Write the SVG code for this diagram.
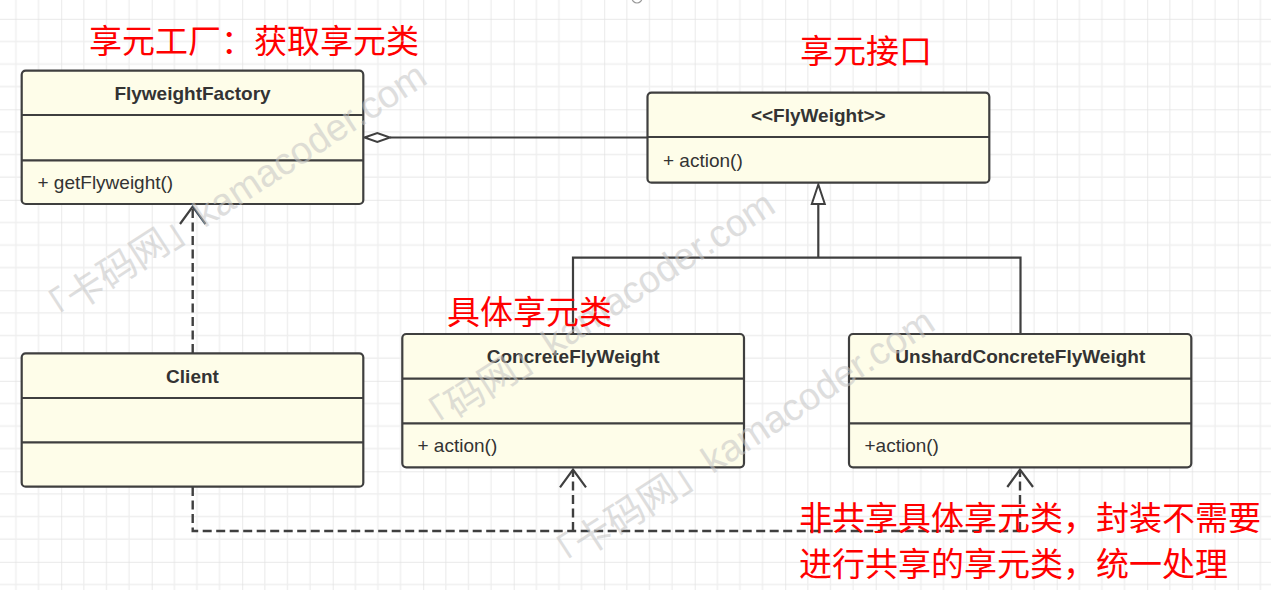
<svg xmlns="http://www.w3.org/2000/svg" width="1271" height="590" viewBox="0 0 1271 590">
<defs>
<pattern id="grid" patternUnits="userSpaceOnUse" x="61.2" y="18.8" width="90.5" height="90.5">
<rect width="90.5" height="90.5" fill="#ffffff"/>
<g stroke="#efefef" stroke-width="1.3">
<line x1="22.625" y1="0" x2="22.625" y2="90.5"/>
<line x1="45.25" y1="0" x2="45.25" y2="90.5"/>
<line x1="67.875" y1="0" x2="67.875" y2="90.5"/>
<line x1="0" y1="22.625" x2="90.5" y2="22.625"/>
<line x1="0" y1="45.25" x2="90.5" y2="45.25"/>
<line x1="0" y1="67.875" x2="90.5" y2="67.875"/>
</g>
<g stroke="#e2e2e2" stroke-width="1.4">
<line x1="0" y1="0" x2="0" y2="90.5"/>
<line x1="0" y1="0" x2="90.5" y2="0"/>
</g>
</pattern>
<style>
.box{fill:#fefde9;stroke:#3f3f3f;stroke-width:2.2}
.div{stroke:#3f3f3f;stroke-width:2.2}
.title{font-family:"Liberation Sans",Arial,sans-serif;font-size:19px;font-weight:bold;fill:#333333;text-anchor:middle}
.member{font-family:"Liberation Sans",Arial,sans-serif;font-size:19px;fill:#333333}
.solid{fill:none;stroke:#3f3f3f;stroke-width:2.2}
.dash{fill:none;stroke:#3f3f3f;stroke-width:2.4;stroke-dasharray:9 4.5}
.open{fill:none;stroke:#3f3f3f;stroke-width:2.2}
.note{font-family:"Noto Sans CJK SC","Noto Sans CJK JP",sans-serif;font-size:33px;fill:#ff0000}
.wm{font-family:"Liberation Sans","Noto Sans CJK SC",sans-serif;font-size:38px;fill:#c4c4c4;opacity:0.55}
</style>
</defs>
<rect width="1271" height="590" fill="url(#grid)"/>
<circle cx="637" cy="-2" r="5" fill="none" stroke="#999" stroke-width="1.2"/>

<g id="connectors">
<line class="solid" x1="390" y1="137.5" x2="647.5" y2="137.5"/>
<polygon points="364.5,137.5 377.3,133 390,137.5 377.3,142" fill="#ffffff" stroke="#3f3f3f" stroke-width="2"/>
<polyline class="solid" points="818.3,204 818.3,257.7"/>
<polyline class="solid" points="573,334 573,257.7 1020.5,257.7 1020.5,334"/>
<polygon points="818.3,184.5 811.8,204 824.8,204" fill="#ffffff" stroke="#3f3f3f" stroke-width="2"/>
<line class="dash" x1="192.7" y1="353" x2="192.7" y2="207"/>
<polyline class="open" points="180,224 192.7,206.5 205.5,224"/>
<polyline class="dash" points="192.7,487 192.7,531 1020,531"/>
<line class="dash" x1="573" y1="531" x2="573" y2="471"/>
<polyline class="open" points="560,487.3 573,469.5 586,487.3"/>
<line class="dash" x1="1020" y1="531" x2="1020" y2="471"/>
<polyline class="open" points="1007.3,487 1020,469.5 1033,487"/>
</g>

<g id="FlyweightFactory">
<rect class="box" x="21.7" y="70.7" width="341.6" height="133.3" rx="4"/>
<line class="div" x1="21.7" y1="115" x2="363.3" y2="115"/>
<line class="div" x1="21.7" y1="160.3" x2="363.3" y2="160.3"/>
<text class="title" x="192.5" y="100">FlyweightFactory</text>
<text class="member" x="37.5" y="189">+ getFlyweight()</text>
</g>

<g id="FlyWeight">
<rect class="box" x="647.5" y="92.7" width="341.8" height="90" rx="4"/>
<line class="div" x1="647.5" y1="137" x2="989.3" y2="137"/>
<text class="title" x="818.3" y="121.5">&lt;&lt;FlyWeight&gt;&gt;</text>
<text class="member" x="663" y="166.5">+ action()</text>
</g>

<g id="Client">
<rect class="box" x="21.7" y="353.3" width="341.6" height="133.4" rx="4"/>
<line class="div" x1="21.7" y1="398" x2="363.3" y2="398"/>
<line class="div" x1="21.7" y1="442.3" x2="363.3" y2="442.3"/>
<text class="title" x="192.5" y="382.5">Client</text>
</g>

<g id="ConcreteFlyWeight">
<rect class="box" x="402.3" y="334" width="341.7" height="133.3" rx="4"/>
<line class="div" x1="402.3" y1="378.7" x2="744" y2="378.7"/>
<line class="div" x1="402.3" y1="423.3" x2="744" y2="423.3"/>
<text class="title" x="573.2" y="363">ConcreteFlyWeight</text>
<text class="member" x="417.5" y="452">+ action()</text>
</g>

<g id="UnshardConcreteFlyWeight">
<rect class="box" x="849" y="334" width="342.3" height="133.3" rx="4"/>
<line class="div" x1="849" y1="378.7" x2="1191.3" y2="378.7"/>
<line class="div" x1="849" y1="423.3" x2="1191.3" y2="423.3"/>
<text class="title" x="1020.3" y="363">UnshardConcreteFlyWeight</text>
<text class="member" x="864.5" y="452">+action()</text>
</g>

<g id="watermarks">
<text class="wm" x="45" y="332" transform="rotate(-33 45 332)">「卡码网」kamacoder.com</text>
<text class="wm" x="425" y="440" transform="rotate(-33 425 440)">「码网」kamacoder.com</text>
<text class="wm" x="553" y="578" transform="rotate(-33 553 578)">「卡码网」kamacoder.com</text>
</g>

<g id="notes">
<text class="note" x="89" y="52.5">享元工厂：获取享元类</text>
<text class="note" x="800" y="63">享元接口</text>
<text class="note" x="447" y="323.5">具体享元类</text>
<text class="note" x="799" y="530">非共享具体享元类，封装不需要</text>
<text class="note" x="799" y="576">进行共享的享元类，统一处理</text>
</g>
</svg>
